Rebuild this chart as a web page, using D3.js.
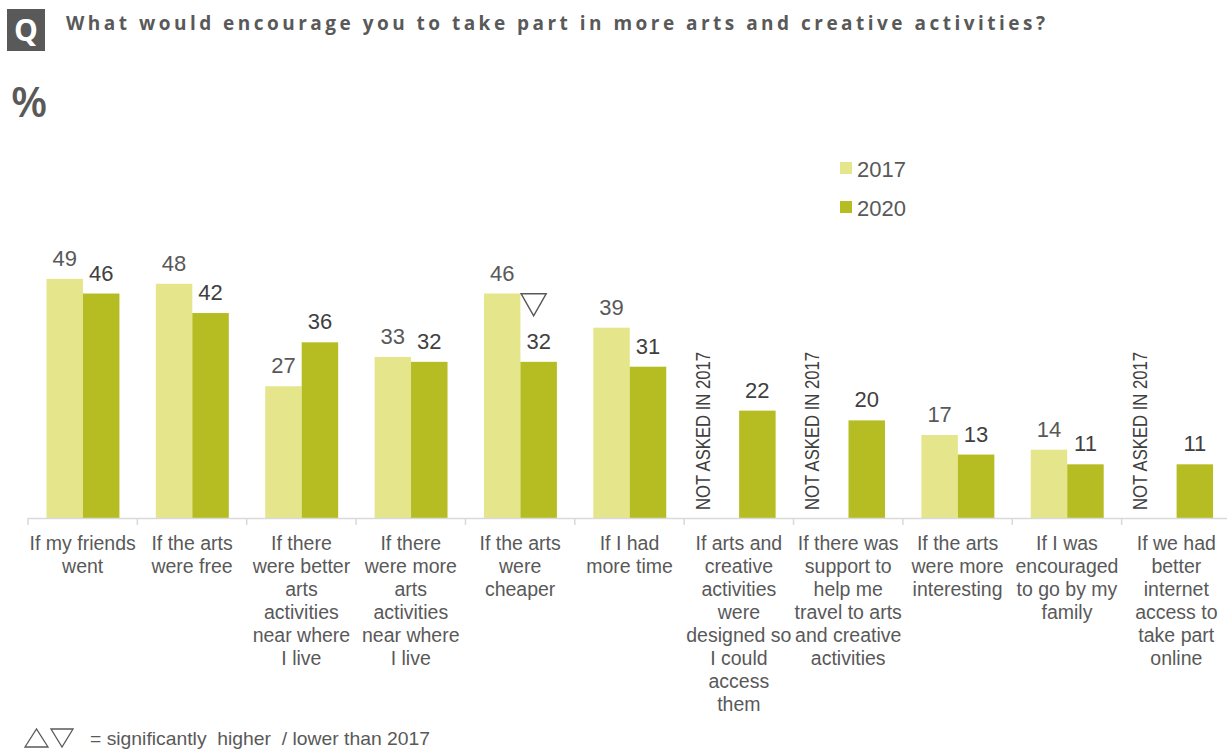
<!DOCTYPE html>
<html>
<head>
<meta charset="utf-8">
<script src="https://cdn.jsdelivr.net/npm/d3@7"></script>
<style>
  html, body { margin: 0; padding: 0; background: #fff; }
  svg { display: block; }
</style>
</head>
<body>
<svg id="chart" width="1227" height="749"></svg>
<script>
// ---- data ----
const categories = [
  "If my friends went",
  "If the arts were free",
  "If there were better arts activities near where I live",
  "If there were more arts activities near where I live",
  "If the arts were cheaper",
  "If I had more time",
  "If arts and creative activities were designed so I could access them",
  "If there was support to help me travel to arts and creative activities",
  "If the arts were more interesting",
  "If I was encouraged to go by my family",
  "If we had better internet access to take part online"
];
const categoryLines = [
  ["If my friends", "went"],
  ["If the arts", "were free"],
  ["If there", "were better", "arts", "activities", "near where", "I live"],
  ["If there", "were more", "arts", "activities", "near where", "I live"],
  ["If the arts", "were", "cheaper"],
  ["If I had", "more time"],
  ["If arts and", "creative", "activities", "were", "designed so", "I could", "access", "them"],
  ["If there was", "support to", "help me", "travel to arts", "and creative", "activities"],
  ["If the arts", "were more", "interesting"],
  ["If I was", "encouraged", "to go by my", "family"],
  ["If we had", "better", "internet", "access to", "take part", "online"]
];
const seriesNames = ["2017", "2020"];
const values2017 = [49, 48, 27, 33, 46, 39, null, null, 17, 14, null];
const values2020 = [46, 42, 36, 32, 32, 31, 22, 20, 13, 11, 11];
// significance markers for 2020 vs 2017: "down" = significantly lower
const significance2020 = [null, null, null, null, "down", null, null, null, null, null, null];
const notAskedText = "NOT ASKED IN 2017";
const titleText = "What would encourage you to take part in more arts and creative activities?";
const footnoteText = "= significantly  higher  / lower than 2017";

// ---- styles ----
const colors = { "2017": "#e5e58c", "2020": "#b5bd23" };
const labelColors = { "2017": "#595959", "2020": "#404040" };
const sans = "'Liberation Sans', Arial, sans-serif";
const titleFont = "'Open Sans', Lato, sans-serif";

const svg = d3.select("#chart");

// ---- scales ----
const x0 = d3.scaleBand().domain(categories).range([28, 1231]).padding(0);
const bw = x0.bandwidth();
const x1 = d3.scaleBand().domain(seriesNames).range([bw * 0.169, bw * 0.836]).padding(0);
const y = d3.scaleLinear().domain([0, 50]).range([518, 274]);

// ---- header ----
svg.append("rect").attr("x", 7).attr("y", 9).attr("width", 38).attr("height", 42).attr("fill", "#595959");
svg.append("text").attr("x", 26).attr("y", 41).attr("text-anchor", "middle")
  .attr("font-family", titleFont).attr("font-weight", 700).attr("font-size", 30)
  .attr("fill", "#fff").text("Q");
svg.append("text").attr("x", 66).attr("y", 30)
  .attr("font-family", titleFont).attr("font-weight", 700).attr("font-size", 19)
  .attr("fill", "#595959")
  .attr("textLength", 979).attr("lengthAdjust", "spacing")
  .text(titleText);
svg.append("text").attr("x", 11).attr("y", 117)
  .attr("font-family", titleFont).attr("font-weight", 600).attr("font-size", 42)
  .attr("fill", "#595959").text("%");

// ---- legend ----
const legend = svg.append("g");
seriesNames.forEach((s, i) => {
  const ly = 162 + i * 39;
  legend.append("rect").attr("x", 840).attr("y", ly).attr("width", 12).attr("height", 12).attr("fill", colors[s]);
  legend.append("text").attr("x", 857).attr("y", ly + 15)
    .attr("font-family", sans).attr("font-size", 22).attr("fill", "#595959").text(s);
});

// ---- bars ----
const rows = categories.map((c, i) => ({
  cat: c, i,
  vals: [{ s: "2017", v: values2017[i] }, { s: "2020", v: values2020[i], sig: significance2020[i] }]
}));

const groups = svg.append("g").selectAll("g").data(rows).join("g")
  .attr("transform", d => `translate(${x0(d.cat)},0)`);

groups.selectAll("rect").data(d => d.vals.filter(v => v.v != null)).join("rect")
  .attr("x", d => x1(d.s))
  .attr("width", x1.bandwidth())
  .attr("y", d => y(d.v))
  .attr("height", d => y(0) - y(d.v))
  .attr("fill", d => colors[d.s]);

groups.selectAll("text.val").data(d => d.vals.filter(v => v.v != null)).join("text")
  .attr("class", "val")
  .attr("x", d => x1(d.s) + x1.bandwidth() / 2)
  .attr("y", d => y(d.v) - 13)
  .attr("text-anchor", "middle")
  .attr("font-family", sans).attr("font-size", 22)
  .attr("fill", d => labelColors[d.s])
  .text(d => d.v);

// significance triangles
groups.each(function (d) {
  d.vals.forEach(v => {
    if (!v.sig) return;
    const cx = x1(v.s) + x1.bandwidth() / 2 - 5;
    const top = y(v.v) - 68;
    const pts = v.sig === "down"
      ? [[cx - 12.5, top], [cx + 12.5, top], [cx, top + 22]]
      : [[cx - 12.5, top + 22], [cx + 12.5, top + 22], [cx, top]];
    d3.select(this).append("path")
      .attr("d", "M" + pts.map(p => p.join(",")).join("L") + "Z")
      .attr("fill", "none").attr("stroke", "#595959").attr("stroke-width", 1.5);
  });
});

// not asked labels
groups.filter(d => d.vals[0].v == null).append("text")
  .attr("transform", d => `translate(${x1("2017") + 7},510) rotate(-90)`)
  .attr("font-family", sans).attr("font-size", 20)
  .attr("textLength", 158).attr("lengthAdjust", "spacingAndGlyphs")
  .attr("fill", "#404040")
  .text(notAskedText);

// ---- axis ----
const axisG = svg.append("g");
axisG.append("line").attr("x1", 28).attr("x2", 1231).attr("y1", y(0) + 0.5).attr("y2", y(0) + 0.5)
  .attr("stroke", "#d9d9d9").attr("stroke-width", 1.5);
axisG.selectAll("line.tick").data(categories).join("line")
  .attr("class", "tick")
  .attr("x1", d => x0(d)).attr("x2", d => x0(d))
  .attr("y1", y(0)).attr("y2", y(0) + 7)
  .attr("stroke", "#d9d9d9").attr("stroke-width", 1.5);

// category labels
const catLabels = svg.append("g").selectAll("text").data(categories).join("text")
  .attr("text-anchor", "middle")
  .attr("font-family", sans).attr("font-size", 19.5)
  .attr("fill", "#595959");
catLabels.each(function (c, i) {
  const t = d3.select(this);
  categoryLines[i].forEach((line, j) => {
    t.append("tspan").attr("x", x0(c) + bw / 2).attr("y", 550 + j * 23).text(line);
  });
});

// ---- footnote ----
const fn = svg.append("g");
fn.append("path").attr("d", "M25,747L48,747L36.5,729Z").attr("fill", "none").attr("stroke", "#595959").attr("stroke-width", 1.3);
fn.append("path").attr("d", "M51,729L73,729L62,747Z").attr("fill", "none").attr("stroke", "#595959").attr("stroke-width", 1.3);
fn.append("text").attr("x", 90).attr("y", 745)
  .attr("font-family", sans).attr("font-size", 19).attr("fill", "#595959")
  .attr("textLength", 340).attr("lengthAdjust", "spacingAndGlyphs")
  .style("white-space", "pre")
  .text(footnoteText);
</script>
</body>
</html>
